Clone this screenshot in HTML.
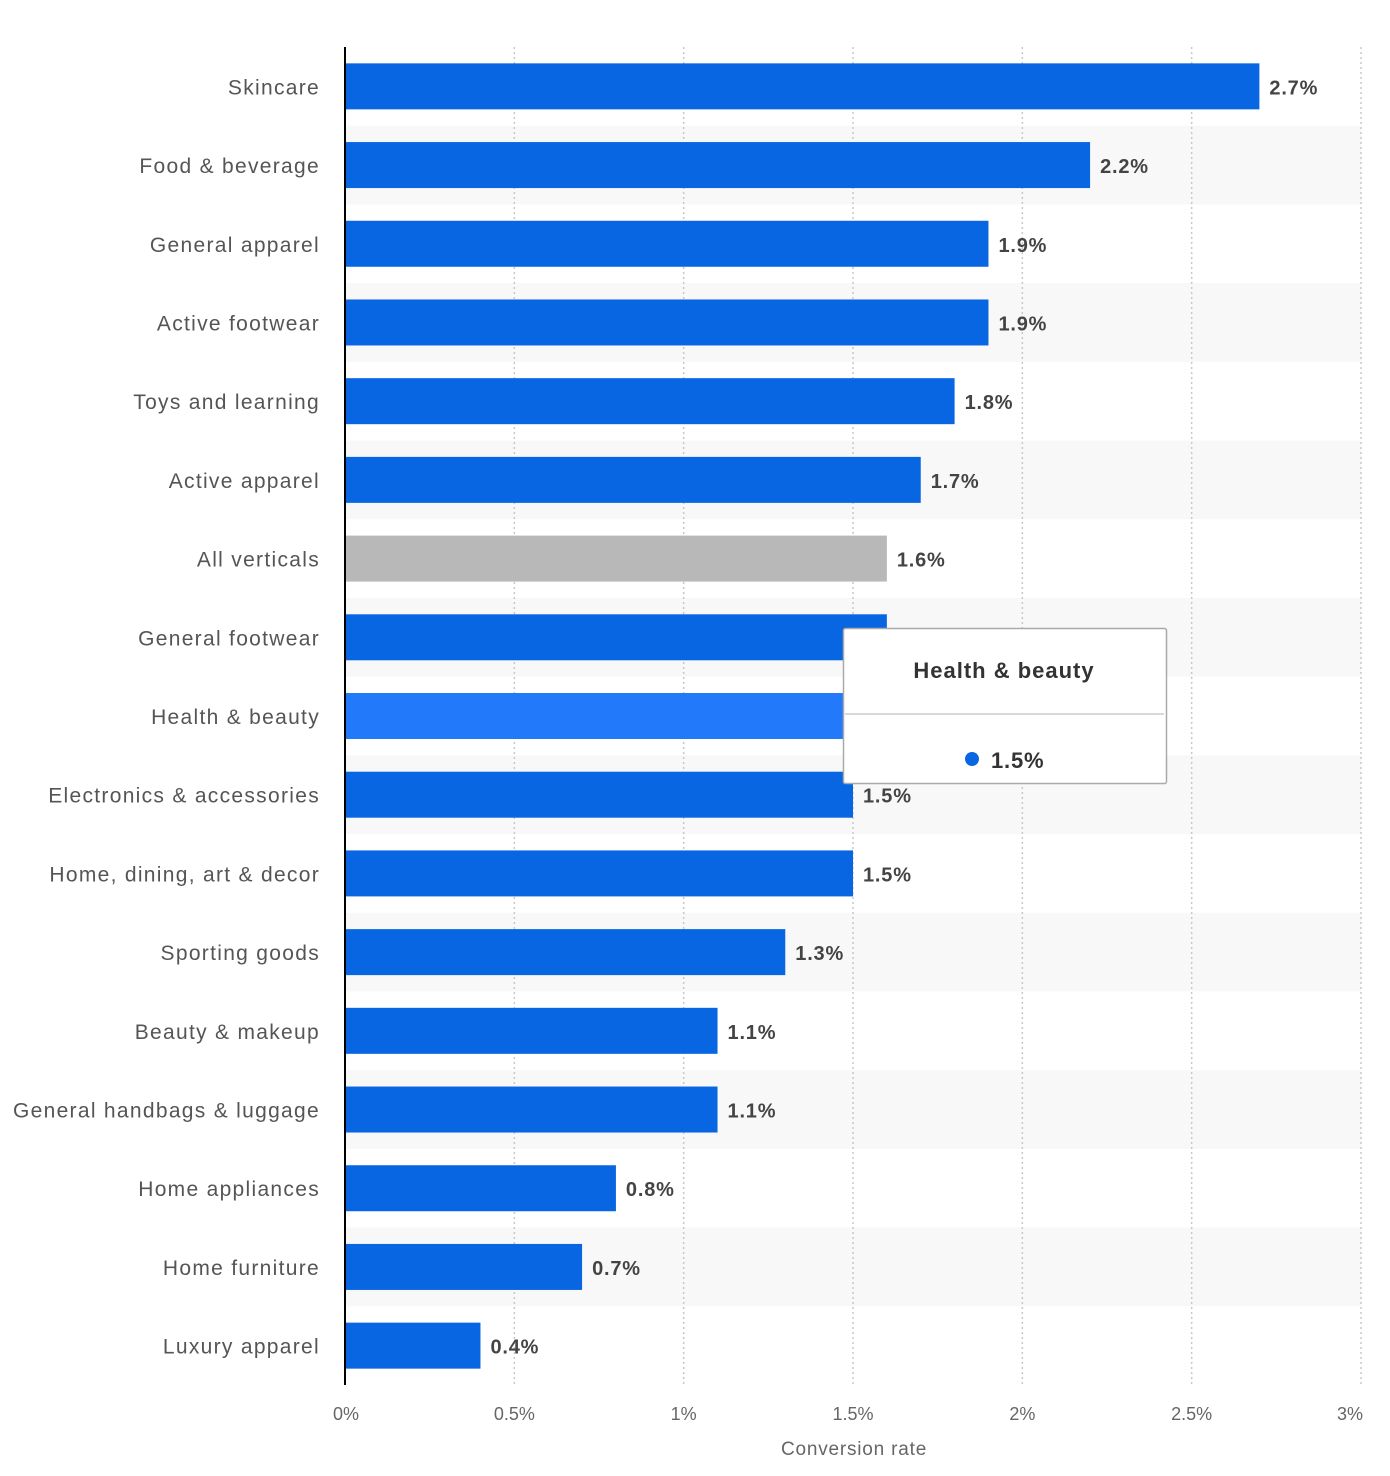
<!DOCTYPE html>
<html><head><meta charset="utf-8"><style>
body{margin:0;background:#fff;font-family:"Liberation Sans",sans-serif;}
svg{display:block}
</style></head><body>
<svg id="chart" width="1390" height="1476"></svg>
<script>
const categories=["Skincare","Food & beverage","General apparel","Active footwear","Toys and learning","Active apparel","All verticals","General footwear","Health & beauty","Electronics & accessories","Home, dining, art & decor","Sporting goods","Beauty & makeup","General handbags & luggage","Home appliances","Home furniture","Luxury apparel"];
const values=[2.7,2.2,1.9,1.9,1.8,1.7,1.6,1.6,1.5,1.5,1.5,1.3,1.1,1.1,0.8,0.7,0.4];
const tickValues=[0,0.5,1,1.5,2,2.5,3];
const tickLabels=["0%","0.5%","1%","1.5%","2%","2.5%","3%"];
const NS="http://www.w3.org/2000/svg";
const svgEl=document.getElementById('chart');
const xLeft=345,xRight=1361,yTop=47,yBottom=1385;
const rowH=(yBottom-yTop)/categories.length;
const xs=v=>xLeft+(xRight-xLeft)*v/3;
const ys=i=>yTop+i*rowH;
function mk(t,a,p){const e=document.createElementNS(NS,t);for(const k in a)e.setAttribute(k,a[k]);(p||svgEl).appendChild(e);return e;}
categories.forEach((c,i)=>{if(i%2==1){const b=mk('rect',{x:xLeft,y:ys(i),width:xRight-xLeft,height:rowH,fill:'#f8f8f8'});

}});
tickValues.forEach((v,i)=>{
 if(i>0){const g=mk('line',{x1:xs(v),x2:xs(v),y1:yTop,y2:yBottom,stroke:'#c8c8c8','stroke-width':1.5,'stroke-dasharray':'2,3'});
 
 }
 const t=mk('text',{x:xs(v),y:1420,'text-anchor':i==0?'start':(i==tickValues.length-1?'end':'middle'),'font-size':18,fill:'#666'});
 if(i==0)t.setAttribute('x',xs(v)-12);
 if(i==tickValues.length-1)t.setAttribute('x',xs(v)+2);
 t.textContent=tickLabels[i];
 
 
});
categories.forEach((c,i)=>{
 const cy=ys(i)+rowH/2;
 const col=c=="All verticals"?'#b8b8b8':(c=="Health & beauty"?'#2279fa':'#0866e3');
 const b=mk('rect',{x:xLeft,y:cy-23,width:xs(values[i])-xLeft,height:46,fill:col});
 
 
 const l=mk('text',{x:320,y:cy+8,'text-anchor':'end','font-size':21,fill:'#555','letter-spacing':'1.3'});
 l.textContent=c;
 
 
 const v=mk('text',{x:xs(values[i])+10,y:cy+8,'font-size':20,'font-weight':'bold',fill:'#444','letter-spacing':'0.8'});
 v.textContent=values[i]+'%';
 
 
});
const ax=mk('line',{x1:xLeft,x2:xLeft,y1:yTop,y2:yBottom,stroke:'#000','stroke-width':2});


const at=mk('text',{x:854,y:1455,'text-anchor':'middle','font-size':19,fill:'#666','letter-spacing':'0.8'});
at.textContent='Conversion rate';


const tg=mk('g',{});


mk('rect',{x:843.5,y:628.5,width:323,height:155,rx:2,fill:'#fff',stroke:'#aaa','stroke-width':1.5},tg);
mk('line',{x1:845,x2:1164,y1:714,y2:714,stroke:'#ccc','stroke-width':1.5},tg);
const tt=mk('text',{x:1004,y:678,'text-anchor':'middle','font-size':22,'font-weight':'bold',fill:'#333','letter-spacing':'1'},tg);
tt.textContent='Health & beauty';
mk('circle',{cx:972,cy:759,r:7,fill:'#0866e3'},tg);
const tv=mk('text',{x:991,y:768,'font-size':22,'font-weight':'bold',fill:'#333','letter-spacing':'0.8'},tg);
tv.textContent='1.5%';
</script>
</body></html>
